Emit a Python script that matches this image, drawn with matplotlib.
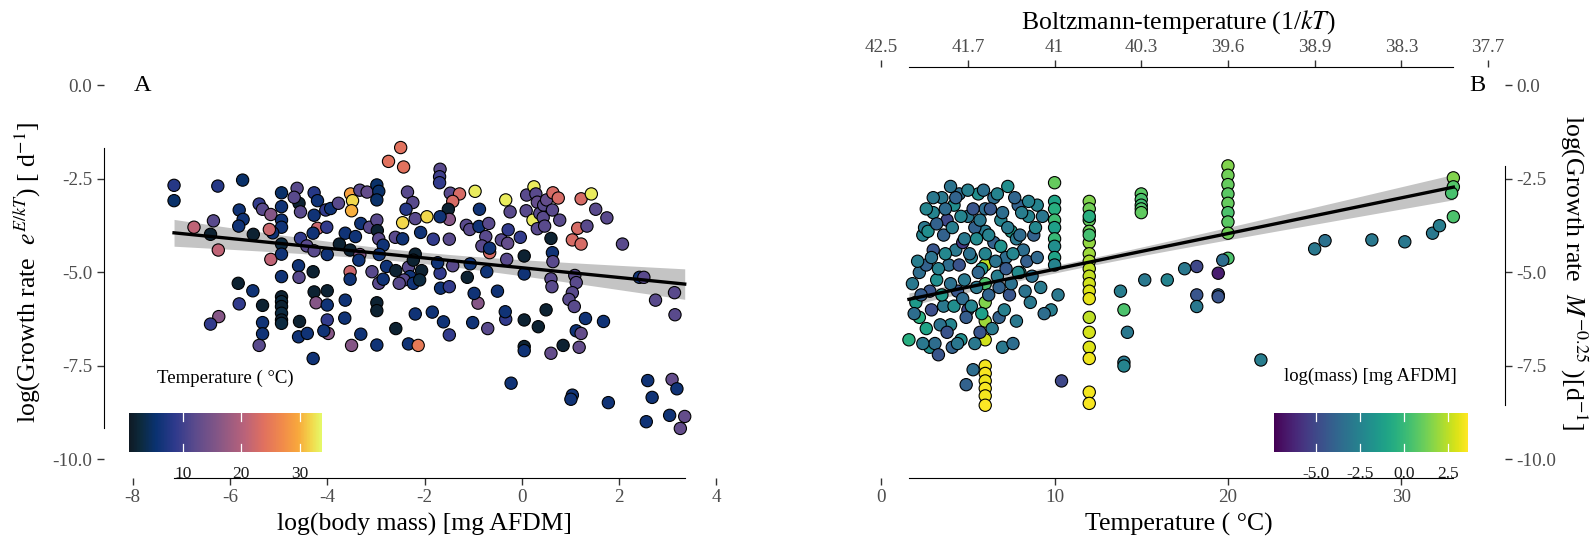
import numpy as np
import matplotlib
matplotlib.use('Agg')
import matplotlib.pyplot as plt
from matplotlib.colors import LinearSegmentedColormap

# ---------------- panel A: growth rate corrected for temperature vs body mass
mass_a = [-2.49, -2.74, -2.43, -7.15, -6.25, -5.74, -7.15, -4.94, -4.62, -4.27, -4.58, -4.68, -3.52, -3.48,
          -3.50, -3.33, -3.18, -2.98, -2.94, -2.98, -2.35, -2.24, -2.38, -4.20, -5.40, -5.33, -5.16, -4.94,
          -4.55, -4.27, -4.03, -3.93, -3.77, -2.45, -2.19, -5.81, -5.73, -5.82, -6.34, -6.74, -6.40, -5.52,
          -6.24, -5.16, -4.94, -4.94, -4.94, -4.94, -5.12, -5.19, -4.55, -4.42, -4.27, -4.20, -4.29, -4.01,
          -4.00, -3.75, -3.53, -3.63, -3.42, -3.31, -3.13, -2.98, -2.97, -2.94, -2.85, -2.93, -2.60, -2.45,
          -3.33, -3.35, -3.53, -3.53, -3.08, -2.78, -2.59, -2.33, -2.19, -2.23, -2.30, -2.42, -2.52, -2.94,
          -2.85, -2.23, -4.59, -4.58, -4.94, -4.29, -5.83, -5.53, -5.81, -5.33, -4.94, -4.94, -4.94, -4.94,
          -4.94, -4.94, -4.27, -4.00, -4.23, -4.00, -3.63, -2.98, -2.98, -3.64, -4.00, -3.98, -4.07, -4.57,
          -4.59, -4.41, -5.33, -5.33, -5.40, -6.23, -6.40, -3.31, -2.98, -3.50, -2.59, -2.33, -2.13, -4.29,
          -1.68, -1.69, -1.69, -1.47, -1.28, -1.42, -1.51, -1.49, -1.68, -0.96, -1.95, -2.08, -1.82, -1.49,
          -1.14, -1.07, -0.88, -0.68, -0.87, -0.74, -0.82, -0.66, -0.66, -0.42, -0.29, -0.28, -0.31, -0.33,
          -0.24, -0.03, 0.05, 0.05, 0.09, 0.10, 0.25, 0.29, 0.32, 0.23, 0.37, 0.45, 0.44, 0.32,
          0.47, 0.51, 0.64, 0.75, 0.63, 0.78, 0.60, 0.63, 0.64, 0.60, 0.62, 0.50, 1.04, 1.22,
          1.15, 1.34, 1.22, 1.43, 1.52, 1.75, 2.07, 1.09, 1.12, 1.04, 0.97, 1.08, 1.31, 1.68,
          1.12, 1.22, 1.18, 0.85, 0.60, 0.05, 0.05, 0.34, 0.05, -0.33, -0.70, -1.01, -1.49, -1.61,
          -1.84, -2.19, -0.90, -0.98, -0.50, -0.72, -1.06, -1.12, -1.42, -1.68, -1.73, -1.67, -1.49, -2.06,
          -2.10, -0.34, 2.42, 2.51, 2.75, 3.14, 3.15, 2.59, 2.68, 2.56, 3.04, 3.09, 3.19, 3.35,
          3.26, 1.78, 1.04, 1.01, -0.22]
growth_a = [-1.66, -2.03, -2.18, -2.67, -2.69, -2.53, -3.08, -2.87, -2.75, -2.87, -3.15, -2.99, -2.90, -3.08,
            -3.35, -2.80, -2.85, -2.66, -2.83, -3.06, -2.85, -3.13, -3.31, -3.08, -3.17, -3.31, -3.45, -3.24,
            -3.38, -3.47, -3.33, -3.29, -3.15, -3.67, -3.56, -3.33, -3.58, -3.76, -3.62, -3.79, -3.98, -3.98,
            -4.40, -4.65, -3.60, -3.79, -4.24, -4.51, -3.94, -3.85, -4.09, -4.29, -4.42, -3.82, -3.95, -3.79,
            -4.52, -4.24, -4.40, -3.95, -4.04, -3.69, -3.79, -3.60, -3.88, -4.10, -4.27, -4.52, -4.06, -4.10,
            -4.52, -4.67, -4.98, -5.18, -4.98, -4.84, -4.95, -4.86, -4.51, -4.67, -5.11, -5.20, -5.29, -5.29,
            -5.18, -5.29, -4.82, -5.13, -5.11, -4.98, -5.29, -5.49, -5.84, -5.88, -5.65, -5.78, -5.91, -6.09,
            -6.27, -6.36, -5.52, -5.49, -5.81, -5.87, -5.74, -5.81, -6.02, -6.22, -6.27, -6.63, -6.56, -6.31,
            -6.72, -6.63, -6.34, -6.64, -6.95, -6.18, -6.38, -6.65, -6.94, -6.95, -6.50, -6.91, -6.95, -7.30,
            -2.24, -2.44, -2.60, -2.88, -2.90, -3.10, -3.31, -3.58, -3.51, -2.83, -3.51, -3.93, -4.11, -4.11,
            -3.74, -3.85, -3.77, -3.69, -3.31, -4.04, -4.29, -4.47, -4.35, -4.13, -4.22, -3.86, -4.65, -3.06,
            -3.38, -4.06, -4.56, -5.04, -3.35, -2.93, -2.71, -2.90, -3.12, -3.60, -3.42, -3.20, -3.53, -3.83,
            -3.76, -3.06, -2.87, -3.01, -3.33, -3.60, -4.09, -4.47, -4.71, -5.17, -5.38, -6.00, -4.13, -4.24,
            -3.82, -3.76, -3.03, -2.90, -3.31, -3.54, -4.24, -5.08, -5.27, -5.54, -5.72, -5.91, -6.23, -6.31,
            -6.56, -6.63, -7.00, -6.95, -7.16, -6.98, -7.09, -6.45, -6.27, -6.25, -6.50, -6.34, -6.67, -6.32,
            -6.06, -6.11, -5.82, -5.56, -5.50, -4.98, -4.77, -5.13, -4.82, -5.02, -4.74, -5.42, -5.38, -4.95,
            -5.20, -6.05, -5.13, -5.13, -5.74, -5.54, -6.13, -7.89, -8.34, -8.99, -8.82, -7.86, -8.11, -8.85,
            -9.17, -8.48, -8.28, -8.39, -7.96]
temp_a = [24, 24, 24, 8, 8, 5, 5, 5, 12, 8, 2, 12, 29, 32,
          30, 12, 13, 5, 5, 5, 12, 12, 8, 6, 9, 12, 16, 6,
          12, 6, 9, 6, 12, 32, 12, 6, 6, 6, 12, 21, 2, 2,
          21, 21, 6, 6, 3, 6, 6, 22, 9, 12, 12, 22, 6, 9,
          6, 2, 2, 6, 6, 6, 12, 12, 2, 12, 6, 6, 12, 6,
          16, 6, 22, 6, 12, 6, 2, 12, 2, 2, 6, 12, 12, 12,
          6, 6, 6, 12, 6, 2, 2, 6, 9, 2, 2, 3, 2, 3,
          2, 3, 2, 2, 16, 6, 6, 2, 2, 6, 9, 16, 6, 2,
          6, 6, 6, 6, 12, 16, 9, 6, 6, 16, 2, 6, 25, 6,
          12, 10, 9, 12, 23, 23, 2, 16, 6, 33, 32, 6, 9, 12,
          12, 12, 6, 12, 6, 12, 12, 23, 6, 12, 13, 9, 12, 33,
          12, 9, 2, 6, 12, 12, 33, 12, 13, 33, 12, 12, 12, 12,
          12, 13, 23, 23, 12, 12, 2, 6, 12, 12, 12, 2, 23, 23,
          23, 12, 23, 33, 12, 12, 12, 12, 12, 12, 12, 12, 6, 6,
          6, 13, 13, 2, 13, 2, 6, 2, 2, 9, 12, 6, 9, 6,
          6, 6, 16, 6, 6, 6, 6, 2, 12, 9, 6, 6, 9, 2,
          3, 6, 6, 12, 12, 12, 12, 6, 6, 6, 6, 13, 6, 13,
          13, 6, 6, 6, 6]

# ---------------- panel B: growth rate corrected for mass vs temperature
temp_b = [20, 20, 20, 20, 20, 20, 20, 20, 20.0, 19.7, 19.44, 19.44, 19.44, 18.2, 18.2, 18.2,
          15, 15, 15, 15, 15, 15.2,
          12, 12, 12, 12, 12, 12, 12, 12, 12, 12, 12, 12, 12, 12, 12, 12, 12, 12, 12, 12,
          10, 10, 10, 10, 10, 10, 10, 10, 10, 10.2, 10.4, 9.8,
          6, 6, 6, 6, 6, 6, 6, 6, 6, 6, 6, 6, 6, 6,
          1.6, 1.8, 2.0, 2.2, 2.2, 2.4, 2.5, 2.6, 2.6, 2.8, 2.8, 3.0, 3.0, 3.1, 3.2, 3.3, 3.5, 3.6,
          3.6, 3.8, 3.9, 4.0, 4.1, 4.2, 4.3, 4.4, 4.5, 4.6, 4.7, 4.8, 4.9, 5.0, 5.0, 5.2, 5.3, 5.4,
          5.5, 5.6, 5.7, 5.8, 6.5, 6.5, 6.7, 6.8, 6.9, 7.0, 7.2, 7.3, 7.4, 7.5, 7.6, 7.8, 7.9, 8.0,
          8.2, 8.5, 8.6, 8.8, 9.0,
          1.9, 2.1, 2.3, 2.4, 2.7, 2.9, 2.9, 3.2, 3.3, 3.4, 3.5, 3.7, 3.7, 3.8, 4.0, 4.1, 4.2, 4.3,
          4.4, 4.5, 4.6, 4.7, 4.8, 4.9, 5.0, 5.1, 5.2, 5.3, 5.4, 5.5, 5.6, 5.7, 5.8, 5.9, 6.2, 6.2,
          6.3, 6.4, 6.6, 6.7, 6.8, 6.9, 7.0, 7.1, 7.2, 7.3, 7.5, 7.6, 7.7, 7.8, 7.9, 8.0, 8.1, 8.3,
          8.4, 8.5, 8.7, 8.9, 9.0, 9.2, 9.3, 9.4, 3.0, 2.6, 4.0,
          14, 14, 14, 14.2, 13.8, 16.5, 17.5, 21.9, 25.0, 25.6, 28.3, 30.2, 31.8, 32.2,
          33, 33, 32.9, 33]
growth_b = [-2.15, -2.4, -2.65, -2.9, -3.15, -3.4, -3.65, -3.95, -4.62, -4.67, -5.02, -5.60, -5.65, -4.84, -5.60, -5.91,
            -2.9, -3.05, -3.2, -3.3, -3.4, -5.2,
            -3.1, -3.3, -3.6, -3.9, -4.2, -4.5, -4.7, -4.9, -5.1, -5.3, -5.5, -5.7, -6.2, -6.6, -7.0,
            -7.3, -8.2, -8.5, -4.0, -3.5,
            -2.6, -3.1, -3.3, -3.6, -3.8, -4.1, -4.3, -4.6, -4.8, -5.6, -7.9, -6.0,
            -7.5, -7.7, -7.9, -8.1, -8.3, -8.55, -6.8, -6.3, -5.8, -5.3, -4.8, -4.5, -3.9, -3.3,
            -6.8, -5.3, -5.8, -6.2, -5.0, -4.0, -3.8, -4.8, -6.5, -7.0, -5.5, -3.4, -4.4, -6.9, -5.2, -7.2,
            -3.0, -4.0, -5.9, -3.6, -4.8, -6.4, -7.0, -3.2, -4.4, -5.5, -2.9, -6.8, -4.2, -5.2, -8.0, -3.5,
            -6.0, -4.6, -7.6, -3.8, -5.4, -2.9, -6.6, -4.9, -3.0, -4.2, -5.1, -6.2, -3.6, -7.0, -4.6, -2.7,
            -5.6, -3.9, -6.9, -4.1, -3.2, -5.0, -4.4, -3.5, -5.8, -4.0, -3.2,
            -6.1, -4.7, -5.6, -6.9, -3.9, -4.6, -6.0, -3.7, -4.9, -6.4, -5.6, -3.3, -4.5, -6.6, -5.3, -3.8,
            -5.9, -3.0, -6.9, -4.8, -3.5, -5.7, -4.1, -6.2, -2.8, -4.5, -5.9, -3.3, -6.9, -4.1, -5.0, -3.6,
            -6.1, -2.8, -4.0, -5.6, -3.3, -6.5, -4.7, -2.9, -5.4, -4.3, -3.4, -6.0, -4.9, -3.8, -5.3, -4.5,
            -3.0, -6.3, -5.0, -4.0, -3.4, -5.5, -4.7, -3.1, -5.1, -3.8, -4.6, -5.4, -3.5, -6.1, -3.0, -3.3,
            -2.7,
            -6.0, -7.4, -7.5, -6.6, -5.5, -5.2, -4.9, -7.34, -4.37, -4.15, -4.13, -4.18, -3.95, -3.75,
            -2.47, -2.71, -2.88, -3.51]
mass_b = [1.5, 1.2, 1.0, 0.8, 1.0, 0.5, 0.8, 1.2, 0.5, -3.5, -6.5, -3.7, -4.5, -5.0, -4.5, -3.0,
          0.8, 0.5, 0.3, 0.6, 0.9, -3.0,
          1.5, 1.2, 1.0, 1.3, 1.8, 2.0, 2.2, 2.5, 2.6, 2.8, 3.0, 3.2, 2.5, 2.9, 3.0, 3.3, 3.4, 3.5,
          0.3, -0.5,
          1.0, -1.0, -0.5, 0.2, -1.2, 0.0, -2.0, -1.0, -2.5, -3.0, -5.0, -2.8,
          3.4, 3.5, 3.3, 3.5, 3.4, 3.6, 2.8, 2.0, 1.5, 0.5, 2.5, -2.5, -3.0, -3.5,
          -0.5, -3.0, -1.5, -0.5, -3.5, -2.5, -3.0, -4.0, -1.0, -2.0, -4.5, -2.5, -4.5, -3.5, -2.0, -4.5,
          -3.0, -4.0, -3.0, -5.0, -3.5, -2.5, -4.0, -2.0, -3.0, -4.5, -3.5, -2.0, -5.5, -3.0, -4.0, -3.0,
          -5.0, -2.5, -3.5, -4.0, -3.0, -2.0, -4.5, -1.8, -3.5, -4.0, -2.8, -4.0, -2.5, -3.0, -3.5, -2.0,
          -4.5, -1.5, -3.5, -3.0, -4.0, -2.0, -3.5, -2.5, -3.0, -4.0, -2.5,
          -3.5, -2.8, -4.2, -3.0, -2.0, -3.2, -4.8, -4.0, -2.6, -3.3, -1.5, -3.6, -2.3, -4.6, -3.4, -2.8,
          -2.0, -3.9, -3.1, -4.6, -2.4, -3.6, -3.0, -4.2, -2.7, -3.3, -2.5, -4.5, -3.0, -2.2, -3.8, -3.1,
          -1.2, -3.4, -2.6, -3.9, -4.4, -2.9, -3.2, -2.5, -4.0, -1.8, -3.5, -2.7, -4.3, -2.9, -3.3, -2.4,
          -3.8, -3.0, -2.2, -3.6, -2.8, -3.2, -4.1, -2.6, -3.4, -2.3, -3.7, -2.9, -3.1, -3.5, -3.0, -2.4,
          -3.2,
          0.5, -3.0, -2.5, -3.0, -2.8, -2.5, -3.0, -2.8, -3.0, -3.3, -3.0, -3.0, -3.0, -2.8,
          1.5, 0.6, 0.4, 0.5]

# fitted regressions: (intercept, slope) and (x at narrowest band, se there, se of slope)
fit_a_coef = (-4.873, -0.1305)
fit_a_se = (-2.3, 0.0765, 0.0342)
fit_b_coef = (-5.87, 0.0955)
fit_b_se = (11.0, 0.051, 0.0075)

BOLTZMANN_K = 8.617333e-5  # eV / K

thermal = LinearSegmentedColormap.from_list('thermal_like', [
    (0.00, '#0f1a24'), (0.06, '#0c2a3e'), (0.14, '#0a3272'), (0.24, '#2f3a8c'),
    (0.34, '#5a4a8c'), (0.46, '#845686'), (0.60, '#b9627a'), (0.70, '#e0705f'),
    (0.80, '#f18b4a'), (0.88, '#f8a83c'), (0.95, '#f2d94c'), (1.00, '#e5f868')])

plt.rcParams['font.family'] = 'Liberation Serif'
plt.rcParams['mathtext.fontset'] = 'stix'
plt.rcParams['axes.unicode_minus'] = False

TICK_GREY = '#4d4d4d'
TITLE_SIZE = 18.5


def model_band(x, coef, se, n_grid=100):
    '''Regression line and its 95% confidence band over the range of x.'''
    grid = np.linspace(min(x), max(x), n_grid)
    fit = coef[0] + coef[1] * grid
    half = 1.96 * np.sqrt(se[1] ** 2 + (se[2] * (grid - se[0])) ** 2)
    return grid, fit, fit - half, fit + half


def style_axis(ax):
    ax.tick_params(direction='out', length=5, width=1.0, color='#333333',
                   labelcolor=TICK_GREY, labelsize=13.8, pad=3)


def add_colorbar(ax, sc, rect, ticks, ticklabels, title, title_xy):
    cax = ax.inset_axes(rect)
    cb = ax.figure.colorbar(sc, cax=cax, orientation='horizontal')
    cb.outline.set_visible(False)
    cb.set_ticks(ticks)
    cb.set_ticklabels(ticklabels)
    cax.tick_params(length=0, labelsize=12.5, pad=10, labelcolor='#1a1a1a')
    for t in ticks:
        cax.axvline(t, ymin=0, ymax=0.2, color='white', lw=0.9)
        cax.axvline(t, ymin=0.8, ymax=1, color='white', lw=0.9)
    ax.text(title_xy[0], title_xy[1], title, transform=ax.transAxes,
            ha='center', va='center', fontsize=13.5)


fig = plt.figure(figsize=(15.95, 5.45), dpi=100)
axA = fig.add_axes([0.0649, 0.1226, 0.4025, 0.7549])
axB = fig.add_axes([0.5340, 0.1226, 0.4098, 0.7549])
yt = [0, -2.5, -5, -7.5, -10]

# ---- A
gx, gy, lo, hi = model_band(mass_a, fit_a_coef, fit_a_se)
axA.fill_between(gx, lo, hi, color='#c4c4c4', lw=0, zorder=1)
scA = axA.scatter(mass_a, growth_a, c=temp_a, cmap=thermal, vmin=0.85, vmax=33.7,
                  s=78, edgecolors='black', linewidths=0.8, zorder=2)
axA.plot(gx, gy, color='black', lw=2.4, zorder=3)
axA.set_xlim(-8.6, 4.6)
axA.set_ylim(-10.5, 0.5)
for side in ('top', 'right'):
    axA.spines[side].set_visible(False)
axA.spines['bottom'].set_bounds(min(mass_a), max(mass_a))
axA.spines['left'].set_bounds(min(growth_a), max(growth_a))
axA.set_xticks([-8, -6, -4, -2, 0, 2, 4])
axA.set_xticklabels(['-8', '-6', '-4', '-2', '0', '2', '4'])
axA.set_yticks(yt)
axA.set_yticklabels([f'{v:.1f}' for v in yt])
style_axis(axA)
axA.set_xlabel('log(body mass) [mg AFDM]', fontsize=TITLE_SIZE, labelpad=5)
axA.set_ylabel(r'log(Growth rate  $e^{E/kT}$) [ d$^{-1}$]', fontsize=TITLE_SIZE, labelpad=7)
axA.text(-7.8, 0, 'A', fontsize=17.5, ha='center', va='center')
add_colorbar(axA, scA, [0.0397, 0.0644, 0.300, 0.0933], [10, 20, 30], ['10', '20', '30'],
             'Temperature ( °C)', (0.189, 0.2436))

# ---- B
gx, gy, lo, hi = model_band(temp_b, fit_b_coef, fit_b_se)
axB.fill_between(gx, lo, hi, color='#c4c4c4', lw=0, zorder=1)
scB = axB.scatter(temp_b, growth_b, c=mass_b, cmap='viridis', vmin=-7.4, vmax=3.6,
                  s=78, edgecolors='black', linewidths=0.8, zorder=2)
axB.plot(gx, gy, color='black', lw=2.4, zorder=3)
axB.set_xlim(-1.7, 36.0)
axB.set_ylim(-10.5, 0.5)
for side in ('top', 'left'):
    axB.spines[side].set_visible(False)
axB.spines['bottom'].set_bounds(min(temp_b), max(temp_b))
axB.spines['right'].set_bounds(min(growth_b), max(growth_b))
axB.yaxis.tick_right()
axB.yaxis.set_label_position('right')
axB.set_xticks([0, 10, 20, 30])
axB.set_yticks(yt)
axB.set_yticklabels([f'{v:.1f}' for v in yt])
style_axis(axB)
axB.set_xlabel('Temperature ( °C)', fontsize=TITLE_SIZE, labelpad=5)
axB.set_ylabel(r'log(Growth rate  $M^{-0.25}$ )[d$^{-1}$]', fontsize=TITLE_SIZE,
               rotation=270, va='bottom', labelpad=1)
axB.text(34.4, 0, 'B', fontsize=17.5, ha='center', va='center')
add_colorbar(axB, scB, [0.6463, 0.0644, 0.2959, 0.0933], [-5, -2.5, 0, 2.5],
             ['-5.0', '-2.5', '0.0', '2.5'], 'log(mass) [mg AFDM]', (0.794, 0.247))

# secondary scale: inverse Boltzmann temperature
top = axB.twiny()
top.set_xlim(axB.get_xlim())
top_temps = [0, 5, 10, 15, 20, 25, 30, 35]
top.set_xticks(top_temps)
labels = []
for t in top_temps:
    s = f'{1 / (BOLTZMANN_K * (t + 273.15)):.1f}'
    labels.append(s[:-2] if s.endswith('.0') else s)
top.set_xticklabels(labels)
for side in ('bottom', 'left', 'right'):
    top.spines[side].set_visible(False)
top.spines['top'].set_bounds(min(temp_b), max(temp_b))
style_axis(top)
top.set_xlabel('Boltzmann-temperature (1/$kT$)', fontsize=TITLE_SIZE, labelpad=7)

fig.savefig('out.png', dpi=100)
